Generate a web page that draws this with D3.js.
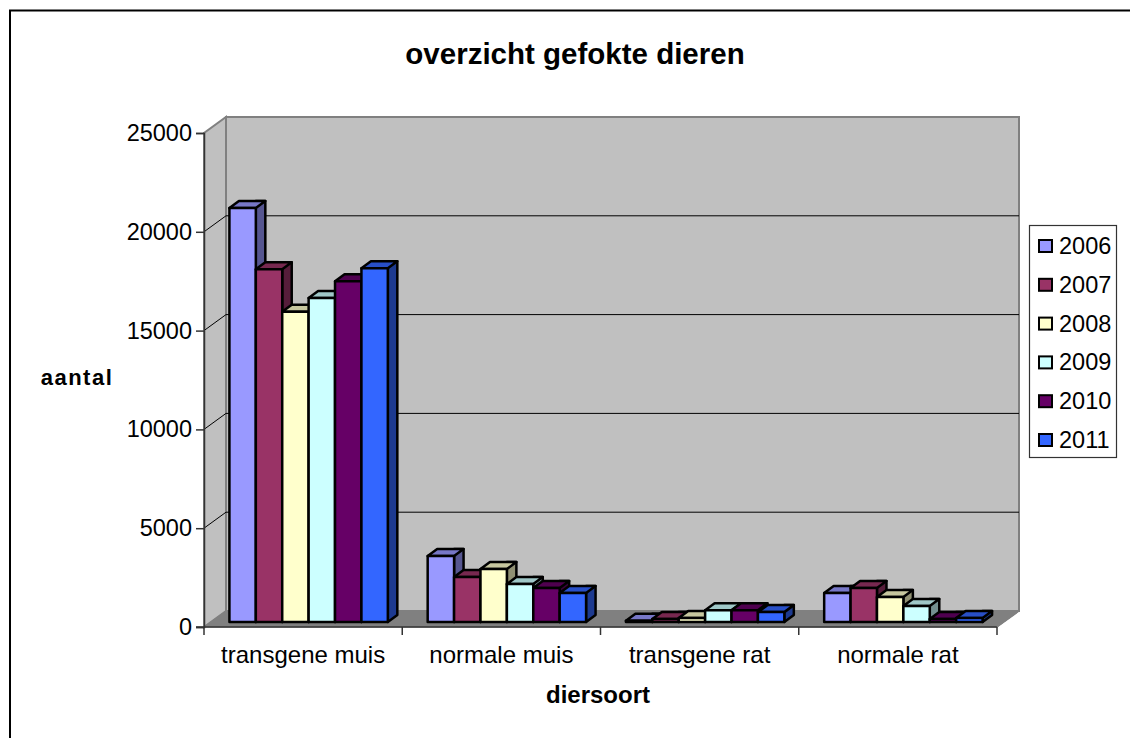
<!DOCTYPE html>
<html>
<head>
<meta charset="utf-8">
<script src="https://cdn.jsdelivr.net/npm/d3@7"></script>
<style>
  html, body { margin: 0; padding: 0; background: #fff; overflow: hidden; }
  text { font-family: "Liberation Sans", Arial, sans-serif; fill: #000; }
</style>
</head>
<body>
<svg id="chart" width="1130" height="738"></svg>
<script>
const categories = ['transgene muis', 'normale muis', 'transgene rat', 'normale rat'];
const years = ['2006', '2007', '2008', '2009', '2010', '2011'];
const colors = ['#9999ff', '#993366', '#ffffcc', '#ccffff', '#660066', '#3366ff'];
const transgeneMuis = [20950, 17850, 15700, 16400, 17250, 17900];
const normaleMuis = [3340, 2280, 2680, 1920, 1720, 1470];
const transgeneRat = [60, 150, 200, 600, 600, 500];
const normaleRat = [1470, 1720, 1265, 810, 150, 200];
const seriesValues = [transgeneMuis, normaleMuis, transgeneRat, normaleRat];
const yTicks = [0, 5000, 10000, 15000, 20000, 25000];

const svg = d3.select('#chart');

// outer border, only top and left show in the crop
svg.append('path')
  .attr('d', 'M10,738V10.5H1130')
  .attr('fill', 'none').attr('stroke', '#000').attr('stroke-width', 2);

svg.append('text').attr('x', 575).attr('y', 64)
  .attr('text-anchor', 'middle').style('font-size', '29.5px').style('font-weight', 'bold')
  .text('overzicht gefokte dieren');

// front plane of the 3d box
const plotLeft = 204, plotRight = 997, plotTop = 133, plotBottom = 627;
const wallDx = 22, wallDy = -16;   // front plane to back wall
const barShiftX = 5.5, barShiftY = -5; // front plane to front of bars
const depthX = 9.5, depthY = -7;   // bar depth

const x = d3.scaleBand().domain(categories).range([plotLeft, plotRight]);
const y = d3.scaleLinear().domain([0, 25000]).range([plotBottom, plotTop]);

// walls and floor
const g = svg.append('g');
g.append('path')
  .attr('d', `M${plotLeft},${plotBottom}L${plotLeft + wallDx},${plotBottom + wallDy}V${plotTop + wallDy}L${plotLeft},${plotTop}Z`)
  .attr('fill', '#c0c0c0').attr('stroke', '#808080').attr('stroke-width', 2);
g.append('rect')
  .attr('x', plotLeft + wallDx).attr('y', plotTop + wallDy)
  .attr('width', plotRight - plotLeft).attr('height', plotBottom - plotTop)
  .attr('fill', '#c0c0c0').attr('stroke', '#808080').attr('stroke-width', 2);
g.append('path')
  .attr('d', `M${plotLeft},${plotBottom}L${plotLeft + wallDx},${plotBottom + wallDy}H${plotRight + wallDx}L${plotRight},${plotBottom}Z`)
  .attr('fill', '#808080').attr('stroke', '#808080');

// gridlines along side wall and back wall
yTicks.slice(1, -1).forEach(t => {
  g.append('path')
    .attr('d', `M${plotLeft},${y(t)}L${plotLeft + wallDx},${y(t) + wallDy}H${plotRight + wallDx}`)
    .attr('fill', 'none').attr('stroke', '#000').attr('stroke-width', 1);
});

// axes
const yAxis = d3.axisLeft(y).tickValues(yTicks).tickSize(8).tickPadding(4).tickFormat(d3.format('d'));
const axisY = svg.append('g').attr('transform', `translate(${plotLeft},0)`).call(yAxis);
axisY.selectAll('text').style('font-size', '23.5px');
axisY.select('.domain').attr('stroke', '#333').attr('stroke-width', 1.5);
axisY.selectAll('line').attr('stroke', '#333').attr('stroke-width', 1.5);

const xAxisLine = svg.append('g').attr('transform', `translate(0,${plotBottom})`);
xAxisLine.append('line').attr('x1', plotLeft - 8).attr('x2', plotRight)
  .attr('stroke', '#333').attr('stroke-width', 1.5);
xAxisLine.append('line').attr('x1', plotRight).attr('y1', 0)
  .attr('x2', plotRight + wallDx).attr('y2', wallDy)
  .attr('stroke', '#808080').attr('stroke-width', 1.5);
d3.range(categories.length + 1).forEach(i => {
  const px = plotLeft + i * x.bandwidth();
  xAxisLine.append('line').attr('x1', px).attr('x2', px).attr('y1', 0).attr('y2', 8)
    .attr('stroke', '#333').attr('stroke-width', 1.5);
});
categories.forEach(c => {
  svg.append('text').attr('x', x(c) + x.bandwidth() / 2).attr('y', 663)
    .attr('text-anchor', 'middle').style('font-size', '24px').text(c);
});

svg.append('text').attr('x', 77).attr('y', 385)
  .attr('text-anchor', 'middle').style('font-size', '22px').style('font-weight', 'bold')
  .style('letter-spacing', '1.5px').text('aantal');
svg.append('text').attr('x', 598).attr('y', 703)
  .attr('text-anchor', 'middle').style('font-size', '24px').style('font-weight', 'bold').text('diersoort');

// bars
const barW = 26.4;
const shade = (c, k) => d3.rgb(c).darker(k).formatHex();
categories.forEach((c, ci) => {
  const groupW = barW * years.length;
  const x0 = x(c) + (x.bandwidth() - groupW) / 2 + barShiftX;
  const cols = svg.append('g');
  years.forEach((yr, i) => {
    const v = seriesValues[ci][i];
    const bx = x0 + i * barW;
    const by0 = y(0) + barShiftY;
    const by1 = y(v) + barShiftY;
    const col = cols.append('g').attr('stroke', '#000').attr('stroke-width', 2.5).attr('stroke-linejoin', 'round');
    // side face
    col.append('path')
      .attr('d', `M${bx + barW},${by0}l${depthX},${depthY}V${by1 + depthY}H${bx + barW}Z`)
      .attr('fill', shade(colors[i], 1.6));
    // top face
    col.append('path')
      .attr('d', `M${bx},${by1}l${depthX},${depthY}h${barW}l${-depthX},${-depthY}Z`)
      .attr('fill', shade(colors[i], 0.7));
    // front face
    col.append('rect')
      .attr('x', bx).attr('y', by1).attr('width', barW).attr('height', by0 - by1)
      .attr('fill', colors[i]);
  });
});

// legend
const legend = svg.append('g');
legend.append('rect').attr('x', 1029.5).attr('y', 225.5).attr('width', 87).attr('height', 232)
  .attr('fill', '#fff').attr('stroke', '#333').attr('stroke-width', 1.2);
const legendY = d3.scalePoint().domain(years).range([246, 440]);
years.forEach((yr, i) => {
  legend.append('rect').attr('x', 1039).attr('y', legendY(yr) - 6).attr('width', 13).attr('height', 12)
    .attr('fill', colors[i]).attr('stroke', '#000').attr('stroke-width', 2);
  legend.append('text').attr('x', 1059).attr('y', legendY(yr) + 8).style('font-size', '23.5px').text(yr);
});
</script>
</body>
</html>
